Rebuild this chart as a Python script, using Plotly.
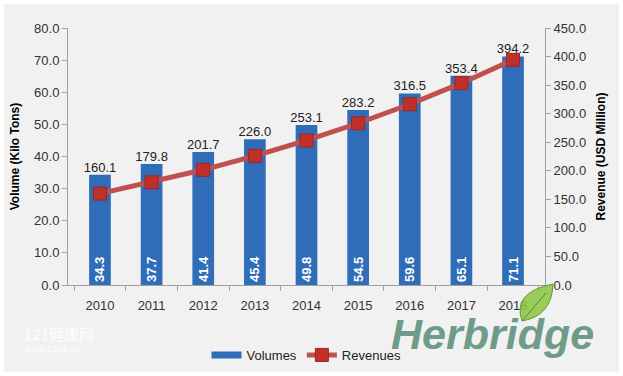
import plotly.graph_objects as go

years = ["2010", "2011", "2012", "2013", "2014", "2015", "2016", "2017", "2018"]
volumes = [34.3, 37.7, 41.4, 45.4, 49.8, 54.5, 59.6, 65.1, 71.1]
revenues = [160.1, 179.8, 201.7, 226.0, 253.1, 283.2, 316.5, 353.4, 394.2]
left_ticks = [0, 10, 20, 30, 40, 50, 60, 70, 80]
right_ticks = [0, 50, 100, 150, 200, 250, 300, 350, 400, 450]

W, H = 623, 376
L, R, T, B = 68, 78, 28, 91
PW, PH = W - L - R, H - T - B

def px(x):
    return (x - L) / PW

def py(y):
    return (H - B - y) / PH

FONT = "Liberation Sans, Arial, sans-serif"
BLUE = "#2f6db8"

fig = go.Figure()
fig.add_trace(go.Bar(
    x=years, y=volumes, name="Volumes", showlegend=False,
    marker=dict(color=BLUE, line=dict(width=0)),
    text=[f"{v:.1f}" for v in volumes], textposition="inside",
    insidetextanchor="start", textangle=-90,
    textfont=dict(color="white", size=13, family=FONT, weight="bold"),
    hoverinfo="skip", yaxis="y",
))
fig.add_trace(go.Scatter(
    x=years, y=volumes, mode="text", showlegend=False,
    text=[f"{v:.1f}" for v in revenues], textposition="top center",
    textfont=dict(color="#222", size=13, family=FONT), yaxis="y",
    cliponaxis=False,
))
# legend entry for the bars (wide rectangle swatch)
fig.add_trace(go.Scatter(
    x=[years[0]], y=[None], name="Volumes", mode="lines",
    line=dict(color=BLUE, width=7), yaxis="y",
))
fig.add_trace(go.Scatter(
    x=years, y=revenues, name="Revenues", mode="lines+markers",
    line=dict(color="#c0504d", width=5),
    marker=dict(symbol="square", size=13, color="#c0302b",
                line=dict(color="#a02420", width=1)),
    yaxis="y2",
))

axis_common = dict(showgrid=False, zeroline=False, showline=True,
                   linecolor="#a0a0a0", linewidth=1, ticks="outside",
                   tickcolor="#a0a0a0", ticklen=5, automargin=False,
                   tickfont=dict(size=13, family=FONT, color="#333"))

fig.update_layout(
    width=W, height=H,
    margin=dict(l=L, r=R, t=T, b=B, autoexpand=False),
    paper_bgcolor="white", plot_bgcolor="rgba(0,0,0,0)",
    bargap=0.58,
    font=dict(family=FONT, size=12, color="#333"),
    xaxis=dict(**axis_common, tickson="boundaries", ticklabelstandoff=8),
    yaxis=dict(**axis_common, range=[0, 80], tickvals=left_ticks,
               tickformat=".1f",
               title=dict(text="Volume (Kilo Tons)", standoff=11,
                          font=dict(size=12, family=FONT, color="black", weight="bold"))),
    yaxis2=dict(**axis_common, range=[0, 450], tickvals=right_ticks,
                tickformat=".1f", overlaying="y", side="right",
                title=dict(text="Revenue (USD Million)", standoff=11,
                           font=dict(size=12, family=FONT, color="black", weight="bold"))),
    legend=dict(orientation="h", x=0.5, xanchor="center", y=py(355),
                yanchor="middle", bgcolor="rgba(0,0,0,0)", itemwidth=30,
                font=dict(size=13, family=FONT, color="#222")),
    shapes=[
        dict(type="rect", xref="paper", yref="paper", layer="below",
             x0=px(4), x1=px(619), y0=py(372), y1=py(4),
             fillcolor="#f1f1f1", line=dict(width=0)),
        dict(type="path", xref="paper", yref="paper", layer="above",
             path=(f"M {px(522)} {py(321)} Q {px(512)} {py(292)} {px(553)} {py(284)} "
                   f"Q {px(552)} {py(316)} {px(522)} {py(321)} Z"),
             fillcolor="rgba(140,198,63,0.85)", line=dict(color="#5c9a3a", width=1)),
        dict(type="line", xref="paper", yref="paper", layer="above",
             x0=px(522), y0=py(321), x1=px(546), y1=py(293),
             line=dict(color="#4d8a30", width=1)),
    ],
    annotations=[
        dict(text="Herbridge", xref="paper", yref="paper", x=px(492), y=py(334),
             xanchor="center", yanchor="middle", showarrow=False,
             font=dict(size=43, family=FONT, color="#6f9c88", weight="bold", style="italic")),
        dict(text="121健康网", xref="paper", yref="paper", x=px(22), y=py(333),
             xanchor="left", yanchor="middle", showarrow=False,
             font=dict(size=15, family="Noto Sans CJK SC", color="rgba(255,255,255,0.9)")),
        dict(text="www.121jk.cn", xref="paper", yref="paper", x=px(22), y=py(349),
             xanchor="left", yanchor="middle", showarrow=False,
             font=dict(size=9, family=FONT, color="rgba(255,255,255,0.9)")),
    ],
)

fig.write_html(
    "out.html",
    config={"displayModeBar": False},
    post_script=("document.documentElement.style.margin='0';"
                 "document.documentElement.style.overflow='hidden';"
                 "document.body.style.margin='0';"
                 "document.body.style.overflow='hidden';"),
)
